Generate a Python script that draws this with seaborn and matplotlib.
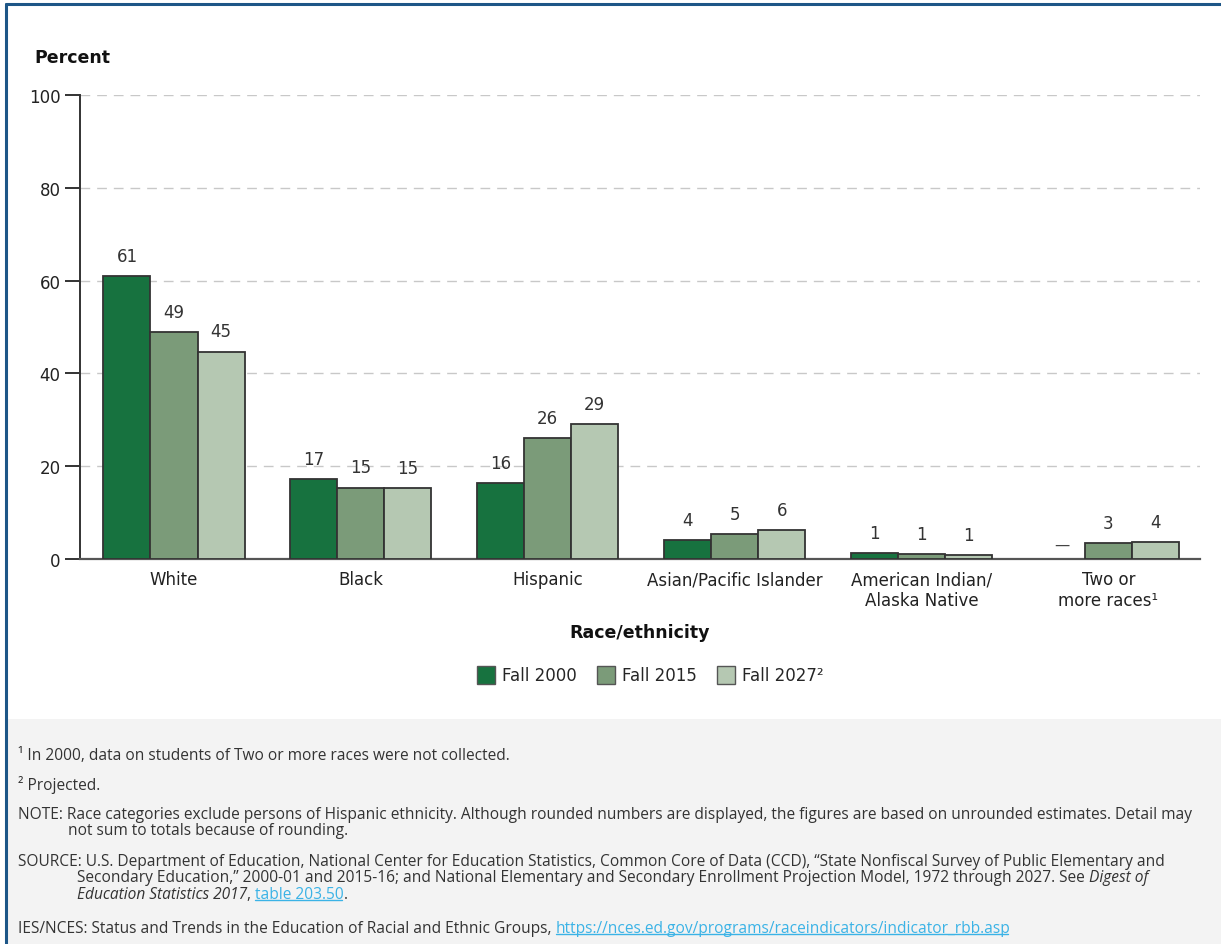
import numpy as np
import pandas as pd
import matplotlib
matplotlib.use("Agg")
import matplotlib.pyplot as plt
from matplotlib import patches, lines
import seaborn as sns

# data
groups = ["White", "Black", "Hispanic", "Asian/Pacific Islander",
          "American Indian/\nAlaska Native", "Two or\nmore races\u00b9"]
years = ["Fall 2000", "Fall 2015", "Fall 2027\u00b2"]
fall_2000 = [61.0, 17.3, 16.3, 4.1, 1.2, np.nan]
fall_2015 = [48.9, 15.4, 26.0, 5.4, 1.0, 3.4]
fall_2027 = [44.7, 15.2, 29.1, 6.3, 0.9, 3.7]
colors = ["#17723f", "#7b9b79", "#b5c8b2"]
y_ticks = [0, 20, 40, 60, 80, 100]

W, H = 1221, 945
DPI = 100

df = pd.DataFrame({
    "group": np.repeat(groups, 3),
    "year": years * len(groups),
    "pct": np.ravel(np.column_stack([fall_2000, fall_2015, fall_2027])),
})

sns.set_style("white")
plt.rcParams["font.family"] = ["DejaVu Sans"]

fig = plt.figure(figsize=(W / DPI, H / DPI), dpi=DPI)
fig.patch.set_facecolor("white")

# grey footnote panel and blue frame
fig.add_artist(patches.Rectangle((8 / W, 0), 1, (H - 720) / H, transform=fig.transFigure,
                                 facecolor="#f3f3f3", edgecolor="none", zorder=0))
fig.add_artist(lines.Line2D([6 / W, 6 / W], [0, 1 - 5 / H], transform=fig.transFigure,
                            color="#1d5687", lw=2.2))
fig.add_artist(lines.Line2D([6 / W, 1], [1 - 5 / H, 1 - 5 / H], transform=fig.transFigure,
                            color="#1d5687", lw=2.2))

ax = fig.add_axes([80 / W, 1 - 560 / H, (1200 - 80) / W, (560 - 96) / H])
sns.barplot(data=df, x="group", y="pct", hue="year", order=groups, hue_order=years,
            palette=colors, width=0.755, edgecolor="#333333", linewidth=1.3,
            saturation=1, ax=ax, zorder=3)

for cont in ax.containers:
    ax.bar_label(cont, fmt="%.0f", padding=8, fontsize=12, color="#333333")

# Fall 2000 not collected for Two or more races
x_two = 5 - 0.755 / 3
ax.text(x_two, 1.5, "\u2014", ha="center", va="bottom", fontsize=11, color="#444444")

ax.set_ylim(0, 100)
ax.set_xlim(-0.503, 5.49)
ax.set_yticks(y_ticks)
ax.set_yticklabels([str(v) for v in y_ticks], fontsize=12, color="#222222")
ax.yaxis.grid(True, color="#c8c8c8", linestyle=(0, (7, 5)), lw=1)
ax.set_axisbelow(True)
ax.tick_params(axis="y", length=11, width=1.4, color="#333333", pad=3, left=True)
ax.tick_params(axis="x", length=0, pad=8, labelsize=12, labelcolor="#222222")
for s in ["top", "right"]:
    ax.spines[s].set_visible(False)
ax.spines["left"].set_color("#333333")
ax.spines["left"].set_linewidth(1.4)
ax.spines["bottom"].set_color("#555555")
ax.spines["bottom"].set_linewidth(1.6)
ax.set_xlabel("Race/ethnicity", fontsize=12.5, fontweight="bold", labelpad=10, color="#111111")
ax.set_ylabel("")

leg = ax.legend(loc="center", bbox_to_anchor=(650 / W, 1 - 676 / H),
                bbox_transform=fig.transFigure, ncol=3, frameon=False, fontsize=12,
                handlelength=1.1, handleheight=1.3, handletextpad=0.4, columnspacing=1.2)
for h in leg.legend_handles:
    h.set_edgecolor("#555555")
    h.set_linewidth(1)

fig.text(34 / W, 1 - 58 / H, "Percent", fontsize=12.5, fontweight="bold", color="#111111",
         ha="left", va="center")

# footnotes
renderer = fig.canvas.get_renderer()
FOOT = ["Open Sans"]
LINK = "#3bb3e6"


def put_line(x_px, y_px, segs, size=11.2):
    x = x_px
    for txt, kind in segs:
        t = fig.text(x / W, 1 - y_px / H, txt, fontsize=size, family=FOOT,
                     style="italic" if kind == "i" else "normal",
                     color=LINK if kind == "a" else "#333333", ha="left", va="center")
        bb = t.get_window_extent(renderer)
        if kind == "a":
            yy = (bb.y0 + 2) / H
            fig.add_artist(lines.Line2D([bb.x0 / W, (bb.x1 - 2) / W], [yy, yy],
                                        transform=fig.transFigure, color=LINK, lw=1))
        x = bb.x1


put_line(18, 756, [("\u00b9 In 2000, data on students of Two or more races were not collected.", "n")])
put_line(18, 785, [("\u00b2 Projected.", "n")])
put_line(18, 815, [("NOTE: Race categories exclude persons of Hispanic ethnicity. Although rounded numbers "
                    "are displayed, the figures are based on unrounded estimates. Detail may", "n")])
put_line(68, 831, [("not sum to totals because of rounding.", "n")])
put_line(18, 862, [("SOURCE: U.S. Department of Education, National Center for Education Statistics, "
                    "Common Core of Data (CCD), \u201cState Nonfiscal Survey of Public Elementary and", "n")])
put_line(77, 878, [("Secondary Education,\u201d 2000-01 and 2015-16; and National Elementary and Secondary "
                    "Enrollment Projection Model, 1972 through 2027. See ", "n"), ("Digest of", "i")])
put_line(77, 895, [("Education Statistics 2017", "i"), (", ", "n"), ("table 203.50", "a"), (".", "n")])
put_line(18, 929, [("IES/NCES: Status and Trends in the Education of Racial and Ethnic Groups, ", "n"),
                   ("https://nces.ed.gov/programs/raceindicators/indicator_rbb.asp", "a")])

fig.savefig("out.png", dpi=DPI)
